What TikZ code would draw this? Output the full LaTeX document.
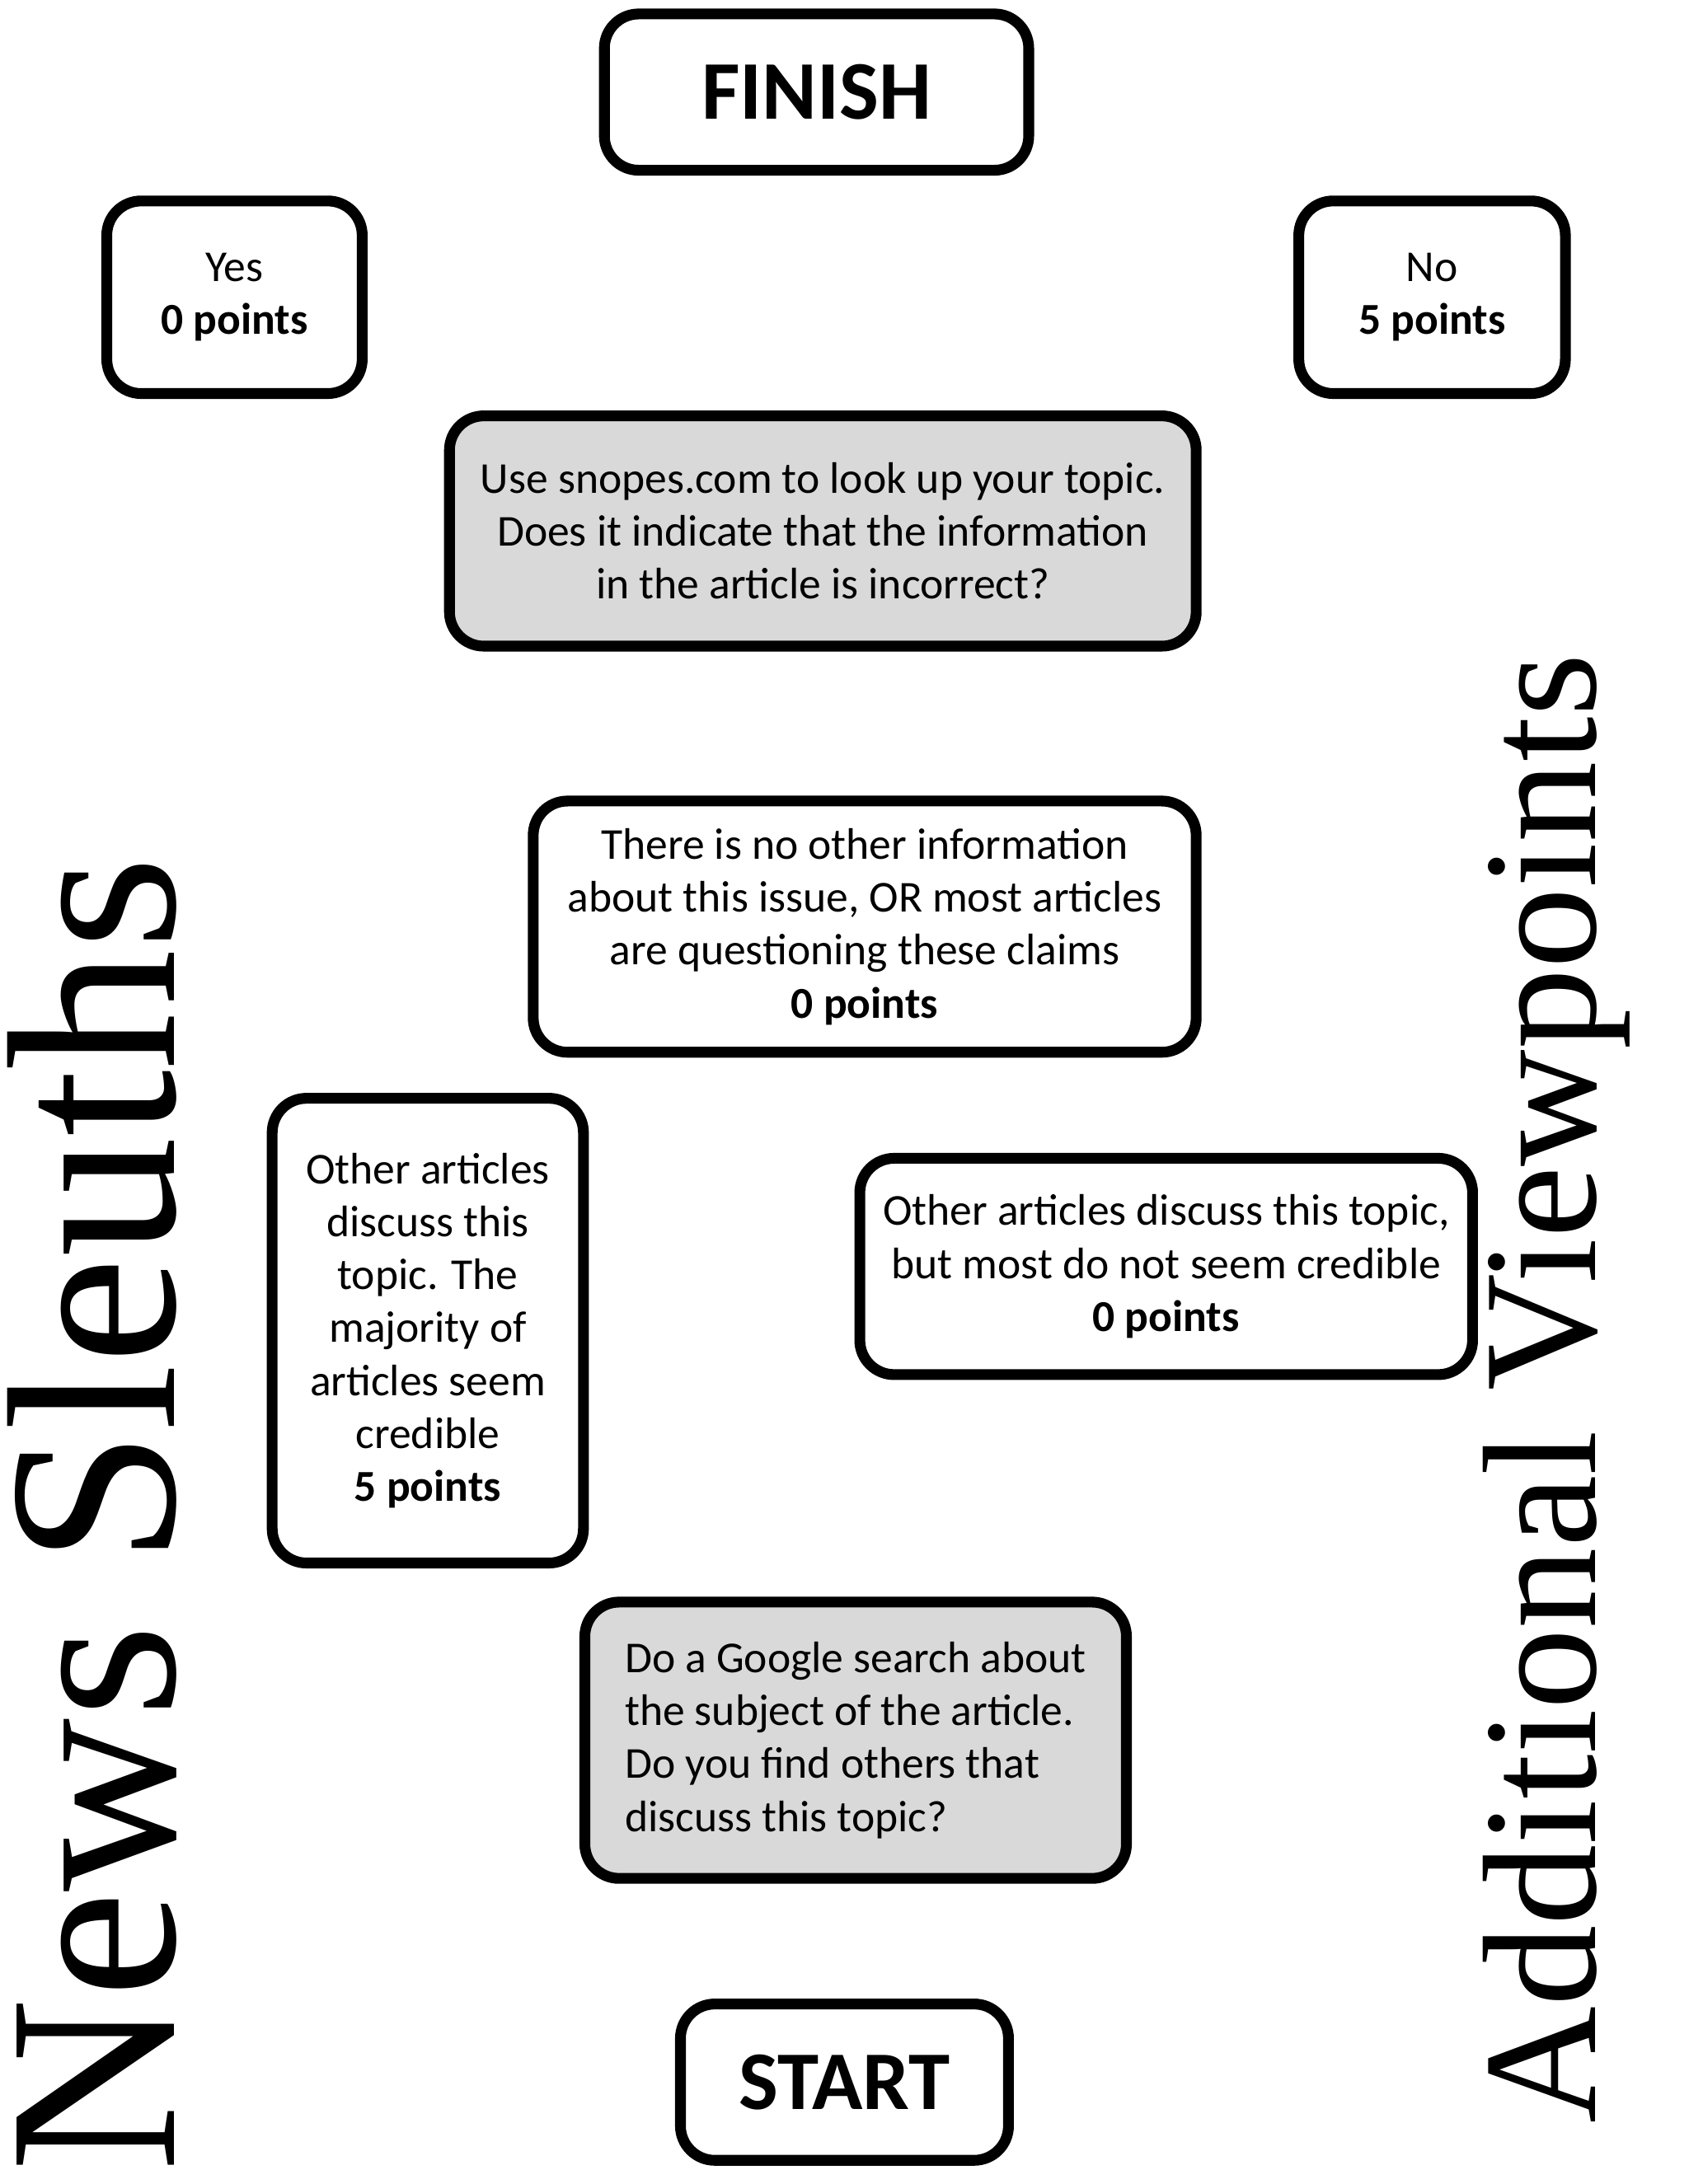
\documentclass[tikz,border=0pt]{standalone}
\usepackage{fontspec}
\setmainfont{Carlito}
\newfontfamily\titlefont{Liberation Serif}
\tikzset{
  card/.style={draw=black,line width=2.2pt,rounded corners=7pt,fill=white,
    align=center,font=\fontsize{9pt}{10.8pt}\selectfont,inner sep=0pt},
  query/.style={card,fill=black!15},
  endcap/.style={card,font=\bfseries\fontsize{17pt}{20pt}\selectfont},
  sidetitle/.style={font=\titlefont,inner sep=0pt}
}
\begin{document}
\begin{tikzpicture}[x=1cm,y=-1cm]
\useasboundingbox (0,0) rectangle (12.1,15.65);
% the two end points
\node[endcap,minimum width=3.04cm,minimum height=1.12cm] (finish) at (5.85,0.66) {FINISH};
\node[endcap,minimum width=2.35cm,minimum height=1.12cm] (start) at (6.05,14.92) {START};
% answers to the snopes question
\node[card,minimum width=1.83cm,minimum height=1.38cm] (yes) at (1.68,2.13) {Yes\\\textbf{0 points}};
\node[card,minimum width=1.91cm,minimum height=1.38cm] (no) at (10.26,2.13) {No\\\textbf{5 points}};
% questions and outcomes
\node[query,minimum width=5.35cm,minimum height=1.65cm] (snopes) at (5.895,3.805)
  {Use snopes.com to look up your topic.\\Does it indicate that the information\\in the article is incorrect?};
\node[card,minimum width=4.75cm,minimum height=1.8cm] (noinfo) at (6.195,6.64)
  {There is no other information\\about this issue, OR most articles\\are questioning these claims\\\textbf{0 points}};
\node[card,minimum width=2.23cm,minimum height=3.33cm] (credible) at (3.065,9.535)
  {Other articles\\discuss this\\topic. The\\majority of\\articles seem\\credible\\\textbf{5 points}};
\node[card,minimum width=4.39cm,minimum height=1.55cm] (notcredible) at (8.355,9.075)
  {Other articles discuss this topic,\\but most do not seem credible\\\textbf{0 points}};
\node[query,minimum width=3.88cm,minimum height=1.98cm,align=left] (google) at (6.13,12.47)
  {Do a Google search about\\the subject of the article.\\Do you find others that\\discuss this topic?};
% side titles
\node[sidetitle,rotate=90,font=\titlefont\fontsize{49pt}{50pt}\selectfont] (sleuths) at (0.66,10.85) {News Sleuths};
\node[sidetitle,rotate=90,font=\titlefont\fontsize{33pt}{34pt}\selectfont] (views) at (11.15,9.95) {Additional Viewpoints};
\end{tikzpicture}
\end{document}
